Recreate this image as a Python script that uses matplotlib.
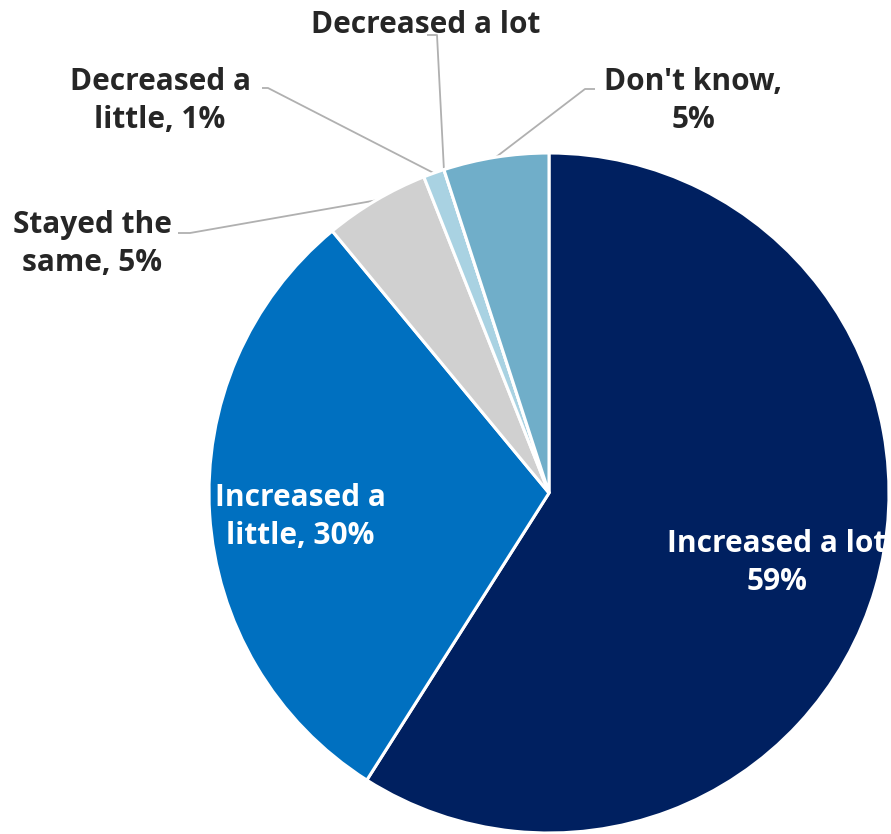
import numpy as np
import matplotlib.pyplot as plt

# slices, clockwise from 12 o'clock
categories = ['Increased a lot', 'Increased a little', 'Stayed the same',
              'Decreased a little', 'Decreased a lot', "Don't know"]
values = [59, 30, 5, 1, 0, 5]
label_texts = ['Increased a lot\n59%', 'Increased a\nlittle, 30%', 'Stayed the\nsame, 5%',
               'Decreased a\nlittle, 1%', 'Decreased a lot', "Don't know,\n5%"]
colors = ['#002060', '#0070C0', '#D0D0D0', '#A9D2E2', '#70AEC9', '#70AEC9']

W, H = 891, 834
fig = plt.figure(figsize=(W / 100, H / 100), dpi=100)
ax = fig.add_axes([0, 0, 1, 1])

cx, cy, r = 549, H - 493, 340
ax.pie(values, colors=colors, startangle=90, counterclock=False, center=(cx, cy), radius=r,
       wedgeprops=dict(edgecolor='white', linewidth=2.2), frame=True)
ax.set_xlim(0, W)
ax.set_ylim(0, H)
ax.set_aspect('equal')
ax.axis('off')

font = dict(family=['Open Sans', 'DejaVu Sans'], fontweight='bold', fontsize=21.5,
            linespacing=1.38, ha='center', va='center')

# mid angle of each wedge (degrees, counter-clockwise from 3 o'clock)
total = sum(values)
ends = 90 - 360 * np.cumsum(values) / total
starts = ends + 360 * np.array(values) / total
mids = np.radians((starts + ends) / 2)

# inside labels
ax.text(777, H - 563, label_texts[0], color='white', **font)
ax.text(300, H - 517, label_texts[1], color='white', **font)

# outside labels: text pos, leader start, elbow
outside = {
    2: ((92, 244), (178, 233), (190, 233)),
    3: ((160, 101), (262, 88), (268, 88)),
    4: ((426, 25), (427, 35), (437, 35)),
    5: ((693, 101), (595, 89), (585, 89)),
}
for i, (tpos, p0, p1) in outside.items():
    ax.text(tpos[0], H - tpos[1], label_texts[i], color='#262626', **font)
    ex = cx + r * np.cos(mids[i])
    ey = cy + r * np.sin(mids[i])
    ax.plot([p0[0], p1[0], ex], [H - p0[1], H - p1[1], ey], color='#B0B0B0', lw=1.3,
            solid_capstyle='butt', zorder=0)

fig.savefig('out.png', dpi=100)
